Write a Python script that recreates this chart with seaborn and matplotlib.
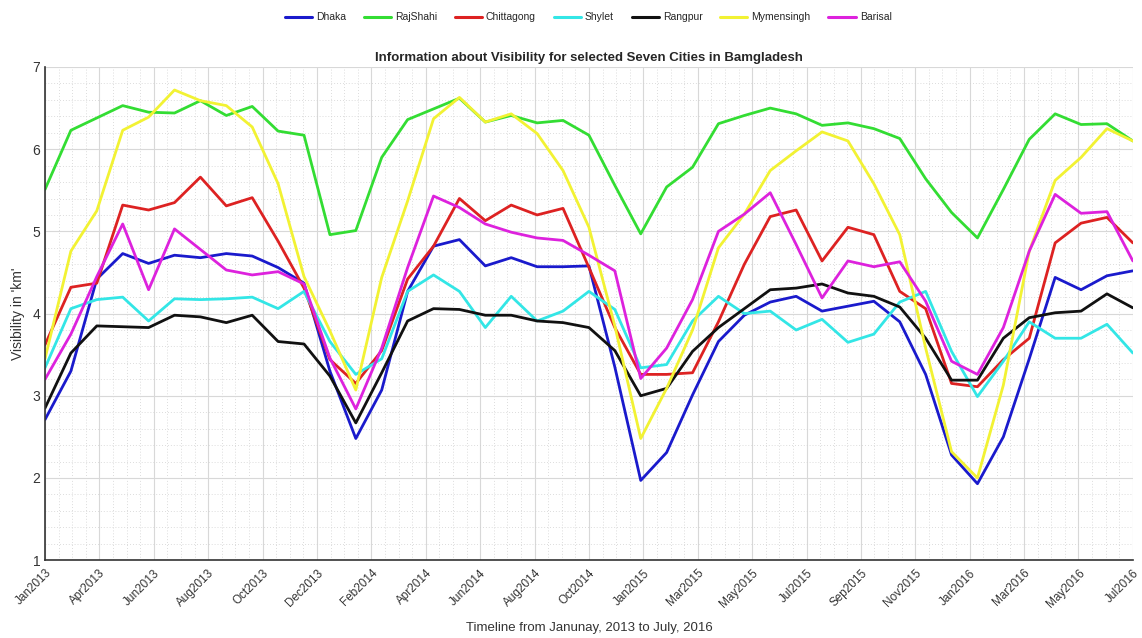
import numpy as np
import pandas as pd
import matplotlib
matplotlib.use("Agg")
import matplotlib.pyplot as plt
from matplotlib.ticker import AutoMinorLocator, FixedLocator
import seaborn as sns

cities = ["Dhaka", "RajShahi", "Chittagong", "Shylet", "Rangpur", "Mymensingh", "Barisal"]
colors = ["#1a1acc", "#33dd33", "#dd2222", "#33e6e6", "#111111", "#f2f233", "#dd22dd"]

tick_labels = ["Jan2013", "Apr2013", "Jun2013", "Aug2013", "Oct2013", "Dec2013",
               "Feb2014", "Apr2014", "Jun2014", "Aug2014", "Oct2014", "Jan2015",
               "Mar2015", "May2015", "Jul2015", "Sep2015", "Nov2015", "Jan2016",
               "Mar2016", "May2016", "Jul2016"]

dhaka = [2.71, 3.30, 4.42, 4.73, 4.61, 4.71, 4.68, 4.73, 4.70, 4.56, 4.37, 3.30, 2.48, 3.07,
         4.27, 4.82, 4.90, 4.58, 4.68, 4.57, 4.57, 4.58, 3.35, 1.97, 2.31, 3.01, 3.66, 3.98,
         4.14, 4.21, 4.03, 4.09, 4.15, 3.90, 3.26, 2.28, 1.93, 2.50, 3.45, 4.44, 4.29, 4.46, 4.52]
rajshahi = [5.51, 6.23, 6.38, 6.53, 6.45, 6.44, 6.59, 6.41, 6.52, 6.22, 6.17, 4.96, 5.01, 5.90,
            6.36, 6.49, 6.62, 6.33, 6.41, 6.32, 6.35, 6.17, 5.56, 4.97, 5.54, 5.78, 6.31, 6.41,
            6.50, 6.43, 6.29, 6.32, 6.25, 6.13, 5.64, 5.23, 4.92, 5.51, 6.12, 6.43, 6.30, 6.31, 6.10]
chittagong = [3.62, 4.32, 4.37, 5.32, 5.26, 5.35, 5.66, 5.31, 5.41, 4.88, 4.31, 3.44, 3.15, 3.55,
              4.42, 4.82, 5.40, 5.13, 5.32, 5.20, 5.28, 4.56, 3.83, 3.26, 3.26, 3.28, 3.90, 4.60,
              5.18, 5.26, 4.64, 5.05, 4.96, 4.27, 4.06, 3.15, 3.11, 3.44, 3.70, 4.86, 5.10, 5.17, 4.86]
shylet = [3.34, 4.06, 4.17, 4.20, 3.91, 4.18, 4.17, 4.18, 4.20, 4.06, 4.27, 3.66, 3.26, 3.45,
          4.27, 4.47, 4.27, 3.83, 4.21, 3.91, 4.03, 4.27, 4.05, 3.34, 3.38, 3.91, 4.21, 4.00,
          4.03, 3.80, 3.93, 3.65, 3.75, 4.14, 4.27, 3.54, 2.99, 3.42, 3.90, 3.70, 3.70, 3.87, 3.52]
rangpur = [2.85, 3.52, 3.85, 3.84, 3.83, 3.98, 3.96, 3.89, 3.98, 3.66, 3.63, 3.24, 2.67, 3.28,
           3.91, 4.06, 4.05, 3.98, 3.98, 3.91, 3.89, 3.83, 3.55, 3.00, 3.09, 3.54, 3.83, 4.06,
           4.29, 4.31, 4.36, 4.25, 4.21, 4.08, 3.70, 3.19, 3.19, 3.70, 3.95, 4.01, 4.03, 4.24, 4.07]
mymensingh = [3.45, 4.76, 5.25, 6.23, 6.39, 6.72, 6.59, 6.53, 6.27, 5.58, 4.45, 3.79, 3.07, 4.44,
              5.37, 6.37, 6.63, 6.33, 6.43, 6.19, 5.74, 5.05, 3.85, 2.48, 3.09, 3.80, 4.80, 5.21,
              5.74, 5.98, 6.21, 6.10, 5.58, 4.96, 3.58, 2.32, 2.00, 3.13, 4.76, 5.62, 5.90, 6.25, 6.10]
barisal = [3.20, 3.75, 4.45, 5.09, 4.29, 5.03, 4.78, 4.53, 4.47, 4.51, 4.36, 3.46, 2.84, 3.58,
           4.56, 5.43, 5.29, 5.09, 4.99, 4.92, 4.89, 4.71, 4.52, 3.21, 3.58, 4.17, 5.00, 5.21,
           5.47, 4.84, 4.19, 4.64, 4.57, 4.63, 4.15, 3.42, 3.26, 3.83, 4.76, 5.45, 5.22, 5.24, 4.64]

series = [dhaka, rajshahi, chittagong, shylet, rangpur, mymensingh, barisal]
n = len(dhaka)
month_index = np.arange(n)

df = pd.DataFrame({
    "month": np.tile(month_index, len(cities)),
    "visibility": np.concatenate([np.asarray(s, dtype=float) for s in series]),
    "city": np.repeat(cities, n),
})

sns.set_style("white")
plt.rcParams["font.family"] = ["Liberation Sans", "DejaVu Sans"]

fig = plt.figure(figsize=(11.42, 6.38), dpi=100)
ax = fig.add_axes([0.0394, 0.122, 0.9526, 0.773])

sns.lineplot(data=df, x="month", y="visibility", hue="city", hue_order=cities,
             palette=colors, linewidth=2.0, ax=ax, legend=False, sort=False)

ax.set_xlim(0, n - 1)
ax.set_ylim(1, 7)
ax.xaxis.set_major_locator(FixedLocator(np.linspace(0, n - 1, len(tick_labels))))
ax.set_xticklabels(tick_labels, rotation=45, ha="right", rotation_mode="anchor",
                   fontsize=8.5, color="#333333")
ax.set_yticks(range(1, 8))
ax.tick_params(axis="y", labelsize=10, colors="#333333")
ax.xaxis.set_minor_locator(AutoMinorLocator(4))
ax.yaxis.set_minor_locator(AutoMinorLocator(5))
ax.tick_params(which="major", direction="in", length=10, width=1.0, color="#333333")
ax.tick_params(which="minor", length=0)
ax.tick_params(axis="x", pad=5)

ax.grid(which="major", color="#d8d8d8", linewidth=0.8, linestyle="-")
ax.grid(which="minor", color="#d0d0d0", linewidth=0.6, linestyle=(0, (1, 2.5)))
ax.set_axisbelow(True)

for s in ["top", "right"]:
    ax.spines[s].set_visible(False)
for s in ["left", "bottom"]:
    ax.spines[s].set_color("#333333")
    ax.spines[s].set_linewidth(1.2)

ax.set_title("Information about Visibility for selected Seven Cities in Bamgladesh",
             fontsize=9.5, fontweight="bold", pad=4)
ax.set_ylabel("Visibility in 'km'", fontsize=10, color="#333333", labelpad=5)
ax.set_xlabel("Timeline from Janunay, 2013 to July, 2016", fontsize=9.5,
              color="#333333", labelpad=9)

handles = [plt.Line2D([], [], color=c, linewidth=2.2) for c in colors]
fig.legend(handles, cities, loc="center", bbox_to_anchor=(0.515, 0.973), ncol=7,
           frameon=False, fontsize=7.5, handlelength=2.6, columnspacing=1.7,
           handletextpad=0.4)

fig.savefig("out.png", dpi=100)
